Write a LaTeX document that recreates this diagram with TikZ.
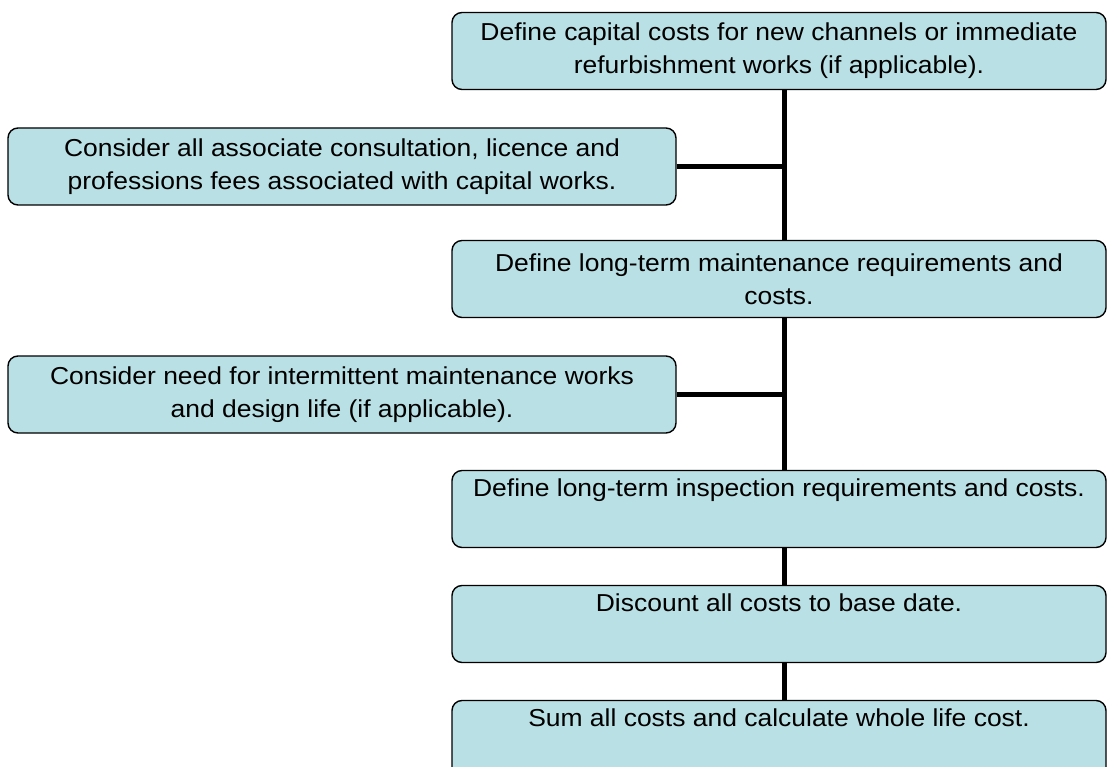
\documentclass[tikz,border=0pt]{standalone}
\usepackage{fontspec}
\setmainfont{Liberation Sans}[FakeStretch=1.08]
\usetikzlibrary{calc}
\definecolor{boxfill}{RGB}{185,224,228}
\begin{document}
\begin{tikzpicture}[x=1pt,y=-1pt,
  flowbox/.style={draw=black, line width=1.4pt, fill=boxfill, rounded corners=10pt,
    inner sep=0pt, align=center, font=\fontsize{24.5}{33}\selectfont},
  rbox/.style={flowbox, minimum width=654pt, minimum height=77pt},
  lbox/.style={flowbox, minimum width=668pt, minimum height=77pt},
  link/.style={line width=5pt, black}]
\clip (0,0) rectangle (1108,767);
\fill[white] (0,0) rectangle (1108,767);
\coordinate (spine) at (784,0);
\node[rbox] (b1) at (779,51) {Define capital costs for new channels or immediate\\refurbishment works (if applicable).};
\node[lbox] (b2) at (342,166.5) {Consider all associate consultation, licence and\\professions fees associated with capital works.};
\node[rbox] (b3) at (779,279) {Define long-term maintenance requirements and\\costs.};
\node[lbox] (b4) at (342,394.5) {Consider need for intermittent maintenance works\\and design life (if applicable).};
\node[rbox] (b5) at (779,509) {Define long-term inspection requirements and costs.\\\strut};
\node[rbox] (b6) at (779,624) {Discount all costs to base date.\\\strut};
\node[rbox] (b7) at (779,739) {Sum all costs and calculate whole life cost.\\\strut};
\draw[link] (b1.south -| spine) -- (b3.north -| spine);
\draw[link] (b3.south -| spine) -- (b5.north -| spine);
\draw[link] (b5.south -| spine) -- (b6.north -| spine);
\draw[link] (b6.south -| spine) -- (b7.north -| spine);
\draw[link] (b2.east) -- (b2.east -| spine);
\draw[link] (b4.east) -- (b4.east -| spine);
\end{tikzpicture}
\end{document}
